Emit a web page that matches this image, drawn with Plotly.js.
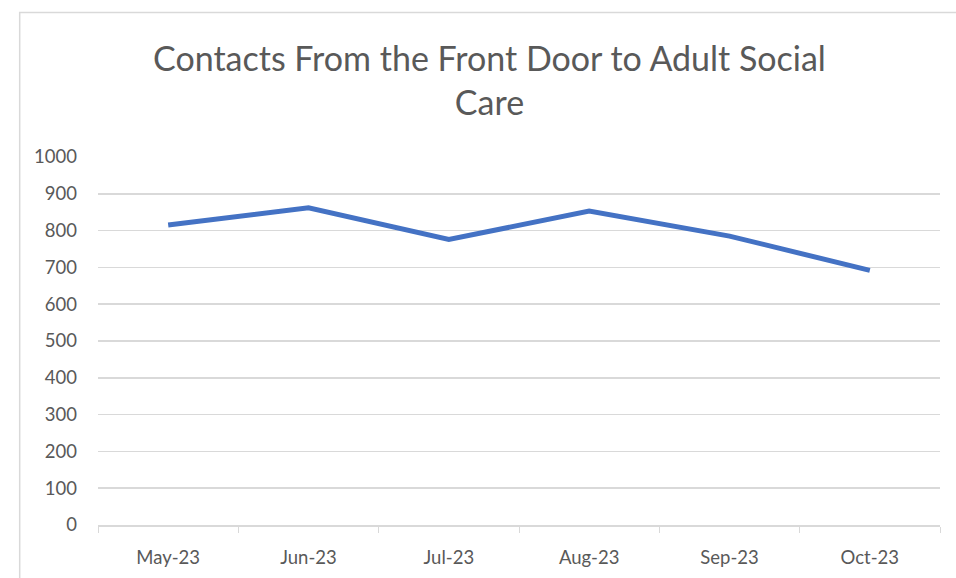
<!DOCTYPE html>
<html><head><meta charset="utf-8">
<script src="https://cdn.plot.ly/plotly-3.0.1.min.js"></script>
<style>html,body{margin:0;padding:0;background:#fff}#chart{width:956px;height:578px}</style>
</head><body><div id="chart"></div>
<script>
const months = ["May-23","Jun-23","Jul-23","Aug-23","Sep-23","Oct-23"];
const contacts = [815, 862, 776, 853, 785, 692];
const yTicks = [0,100,200,300,400,500,600,700,800,900,1000];
const chartTitle = "Contacts From the Front Door to Adult Social<br>Care";

const trace = {
  x: months, y: contacts, type: "scatter", mode: "lines",
  line: {color: "#4472C4", width: 5, shape: "linear"},
  hoverinfo: "x+y"
};
const layout = {
  width: 956, height: 578,
  paper_bgcolor: "#fff", plot_bgcolor: "#fff",
  margin: {l: 98, r: 16, t: 157, b: 53},
  font: {family: "Lato, 'Open Sans', sans-serif", color: "#595959"},
  title: {text: chartTitle, font: {size: 34, color: "#595959", family: "Lato, sans-serif"},
          x: 0.512, xanchor: "center", y: 0.878, yanchor: "top"},
  showlegend: false,
  xaxis: {type: "category", range: [-0.5, 5.5], showgrid: false, showline: true, linecolor: "#d9d9d9", linewidth: 1.5,
          ticks: "outside", tickson: "boundaries", ticklen: 6, tickcolor: "#d9d9d9",
          tickfont: {size: 18.5, color: "#595959"}, ticklabelstandoff: 15, zeroline: false},
  yaxis: {range: [0, 1000], tickvals: yTicks, showgrid: true, gridcolor: "#d9d9d9", gridwidth: 1.5,
          zeroline: false, showline: false, ticks: "", ticklabelstandoff: 20,
          tickfont: {size: 18.5, color: "#595959"}},
  shapes: [{type: "rect", xref: "paper", yref: "paper", x0: -0.093, x1: 1.02, y0: -0.2, y1: 1.393,
            line: {color: "#d9d9d9", width: 1.5}, fillcolor: "rgba(0,0,0,0)", layer: "below"}]
};
Plotly.newPlot("chart", [trace], layout, {displayModeBar: false, staticPlot: true});
</script></body></html>
